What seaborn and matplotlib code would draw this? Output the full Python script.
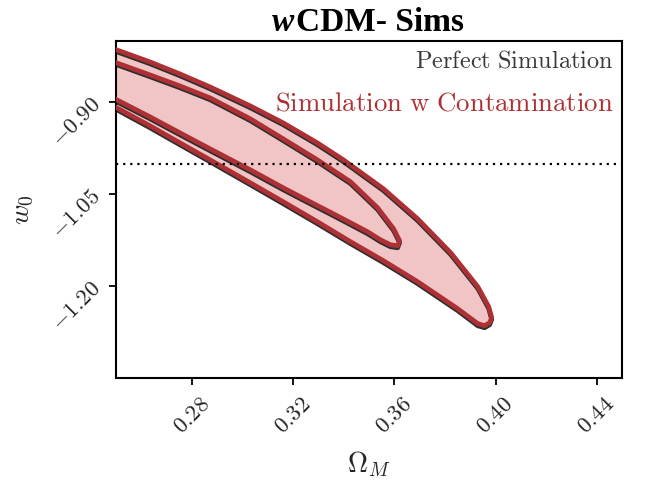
import numpy as np
import pandas as pd
import matplotlib
matplotlib.use("Agg")
import matplotlib.pyplot as plt
import seaborn as sns

# ---------------- data ----------------
# Outer (95%) contour, "Simulation w Contamination"
outer_om = [0.2437, 0.2504, 0.2635, 0.2753, 0.2872, 0.3031, 0.3161, 0.3296, 0.3399, 0.3557,
            0.3692, 0.3823, 0.3930, 0.3973, 0.3985, 0.3977, 0.3957, 0.3930,
            0.3850, 0.3692, 0.3557, 0.3427, 0.3296, 0.3161, 0.3031, 0.2872, 0.2753, 0.2635,
            0.2504, 0.2437]
outer_w0 = [-0.8033, -0.8147, -0.8342, -0.8538, -0.8750, -0.9060, -0.9337, -0.9663, -0.9940, -1.0412,
            -1.0901, -1.1456, -1.2010, -1.2336, -1.2515, -1.2597, -1.2646, -1.2613,
            -1.2368, -1.1928, -1.1586, -1.1276, -1.0950, -1.0624, -1.0315, -0.9940, -0.9663, -0.9386,
            -0.9092, -0.8962]
# Inner (68%) contour, "Simulation w Contamination"
inner_om = [0.2437, 0.2504, 0.2635, 0.2753, 0.2872, 0.3031, 0.3161, 0.3296, 0.3427, 0.3534,
            0.3597, 0.3621, 0.3613, 0.3585, 0.3545, 0.3494, 0.3427, 0.3359, 0.3229, 0.3161,
            0.3031, 0.2872, 0.2753, 0.2635, 0.2504, 0.2437]
inner_w0 = [-0.8261, -0.8359, -0.8554, -0.8734, -0.8929, -0.9271, -0.9597, -0.9940, -1.0298, -1.0722,
            -1.1064, -1.1260, -1.1342, -1.1326, -1.1244, -1.1113, -1.0967, -1.0820, -1.0543, -1.0396,
            -1.0103, -0.9760, -0.9500, -0.9239, -0.8962, -0.8848]
# "Perfect Simulation" contours (almost identical, marginally lower)
perf_outer_om = [0.2437, 0.2504, 0.2635, 0.2753, 0.2872, 0.3031, 0.3161, 0.3296, 0.3399, 0.3557,
                 0.3692, 0.3823, 0.3930, 0.3973, 0.3985, 0.3977, 0.3957, 0.3930,
                 0.3850, 0.3692, 0.3557, 0.3427, 0.3296, 0.3161, 0.3031, 0.2872, 0.2753, 0.2635,
                 0.2504, 0.2437]
perf_outer_w0 = [-0.8063, -0.8177, -0.8372, -0.8568, -0.8780, -0.9090, -0.9367, -0.9693, -0.9970, -1.0442,
                 -1.0931, -1.1486, -1.2040, -1.2366, -1.2545, -1.2630, -1.2680, -1.2648,
                 -1.2400, -1.1960, -1.1618, -1.1308, -1.0982, -1.0656, -1.0347, -0.9972, -0.9695, -0.9418,
                 -0.9124, -0.8994]
perf_inner_om = [0.2437, 0.2504, 0.2635, 0.2753, 0.2872, 0.3031, 0.3161, 0.3296, 0.3427, 0.3534,
                 0.3597, 0.3621, 0.3613, 0.3585, 0.3545, 0.3494, 0.3427, 0.3359, 0.3229, 0.3161,
                 0.3031, 0.2872, 0.2753, 0.2635, 0.2504, 0.2437]
perf_inner_w0 = [-0.8291, -0.8389, -0.8584, -0.8764, -0.8959, -0.9301, -0.9627, -0.9970, -1.0328, -1.0752,
                 -1.1094, -1.1292, -1.1375, -1.1358, -1.1276, -1.1145, -1.0999, -1.0852, -1.0575, -1.0428,
                 -1.0135, -0.9792, -0.9532, -0.9271, -0.8994, -0.8880]

fiducial_w0 = -1.0
xticks = [0.28, 0.32, 0.36, 0.40, 0.44]
xtick_labels = ["0.28", "0.32", "0.36", "0.40", "0.44"]
yticks = [-0.90, -1.05, -1.20]
ytick_labels = ["-0.90", "-1.05", "-1.20"]
legend_labels = ["Perfect Simulation", "Simulation w Contamination"]

# ---------------- style ----------------
sns.set_theme(style="ticks")
plt.rcParams["font.family"] = ["DejaVu Serif"]
plt.rcParams["mathtext.fontset"] = "cm"

RED = "#ad3034"
FILL = "#f1c5c6"
BLACK = "#2e2e2e"

fig = plt.figure(figsize=(6.58, 4.82), dpi=100)
ax = fig.add_axes([0.1763, 0.2158, 0.7690, 0.6991])

def closed(xs, ys):
    return pd.DataFrame({"om": list(xs) + [xs[0]], "w0": list(ys) + [ys[0]]})

d_out = closed(outer_om, outer_w0)
d_in = closed(inner_om, inner_w0)
p_out = closed(perf_outer_om, perf_outer_w0)
p_in = closed(perf_inner_om, perf_inner_w0)

ax.fill(d_out["om"], d_out["w0"], color=FILL, lw=0, zorder=1)
for d in (p_out, p_in):
    sns.lineplot(data=d, x="om", y="w0", sort=False, estimator=None, ax=ax,
                 color=BLACK, lw=3.4, zorder=2, solid_joinstyle="round")
for d in (d_out, d_in):
    sns.lineplot(data=d, x="om", y="w0", sort=False, estimator=None, ax=ax,
                 color=RED, lw=3.4, zorder=3, solid_joinstyle="round")

ax.axhline(fiducial_w0, color="black", ls=(0, (1, 2.2)), lw=1.6, zorder=4)

ax.set_xlim(0.25, 0.45)
ax.set_ylim(-1.35, -0.80)
ax.set_xticks(xticks)
ax.set_xticklabels(["$" + s + "$" for s in xtick_labels], rotation=45, fontsize=16.5)
ax.set_yticks(yticks)
ax.set_yticklabels(["$" + s + "$" for s in ytick_labels], rotation=45, fontsize=16.5)
ax.tick_params(axis="x", direction="out", length=5, width=1.3, color="black", pad=6)
ax.tick_params(axis="y", direction="out", length=5, width=1.3, color="black", pad=3)
for sp in ax.spines.values():
    sp.set_visible(True)
    sp.set_color("black")
    sp.set_linewidth(1.5)

ax.set_xlabel(r"$\Omega_M$", fontsize=20, labelpad=8)
ax.set_ylabel(r"$w_0$", fontsize=20, labelpad=8)

ax.text(0.983, 0.94, r"$\mathrm{" + legend_labels[0].replace(" ", r"\ ") + "}$",
        transform=ax.transAxes, ha="right", va="center", fontsize=17.5, color="#3a3a3a", zorder=5)
ax.text(0.983, 0.815, r"$\mathrm{" + legend_labels[1].replace(" ", r"\ ") + "}$",
        transform=ax.transAxes, ha="right", va="center", fontsize=19.3, color=RED, zorder=5)

# title: italic bold "w" followed by bold "CDM- Sims"
t1 = fig.text(0, 0.936, "w", fontsize=24, fontweight="bold", fontstyle="italic",
              family="Liberation Serif", ha="left", va="baseline", color="black")
t2 = fig.text(0, 0.936, "CDM- Sims", fontsize=24, fontweight="bold",
              family="Liberation Serif", ha="left", va="baseline", color="black")
fig.canvas.draw()
r = fig.canvas.get_renderer()
w1 = t1.get_window_extent(r).width / fig.bbox.width
w2 = t2.get_window_extent(r).width / fig.bbox.width
x0 = 0.558 - (w1 + w2) / 2
t1.set_x(x0)
t2.set_x(x0 + w1 + 0.002)

fig.savefig("out.png", dpi=100)
